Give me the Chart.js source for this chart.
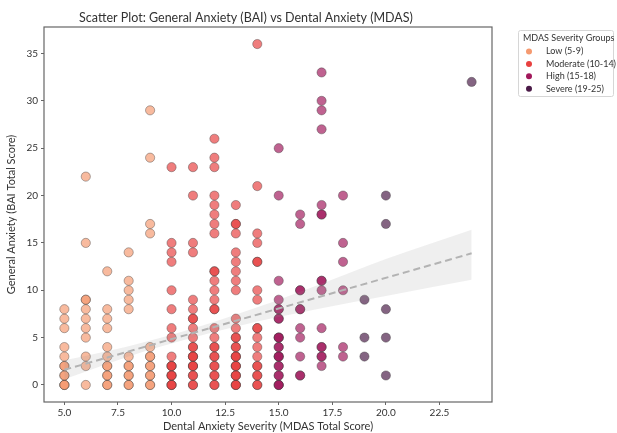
<!DOCTYPE html>
<html>
<head>
<meta charset="utf-8">
<script src="https://cdn.jsdelivr.net/npm/chart.js@4"></script>
<style>
  html, body { margin: 0; padding: 0; background: #fff; }
  #wrap { width: 617px; height: 433px; }
</style>
</head>
<body>
<div id="wrap"><canvas id="chart" width="617" height="433"></canvas></div>
<script>
// MDAS score (x) vs BAI score (y), one pair per patient
const lowPoints = [
  [5,0],[5,0],[5,0],[5,1],[5,1],[5,2],[5,2],[5,3],[5,4],[5,6],[5,7],[5,8],
  [6,0],[6,2],[6,3],[6,5],[6,6],[6,7],[6,8],[6,9],[6,9],[6,15],[6,22],
  [7,0],[7,0],[7,1],[7,1],[7,2],[7,2],[7,3],[7,4],[7,6],[7,7],[7,8],[7,12],
  [8,0],[8,0],[8,1],[8,1],[8,2],[8,2],[8,3],[8,8],[8,9],[8,10],[8,11],[8,14],
  [9,0],[9,0],[9,1],[9,1],[9,2],[9,2],[9,3],[9,3],[9,4],[9,16],[9,17],[9,24],[9,29]
];
const moderatePoints = [
  [10,0],[10,0],[10,0],[10,1],[10,1],[10,1],[10,2],[10,2],[10,2],[10,3],[10,5],[10,6],
  [10,8],[10,10],[10,13],[10,14],[10,15],[10,23],
  [11,0],[11,0],[11,1],[11,1],[11,2],[11,2],[11,2],[11,3],[11,3],[11,3],[11,4],[11,4],
  [11,5],[11,6],[11,7],[11,7],[11,8],[11,9],[11,14],[11,15],[11,20],[11,23],
  [12,0],[12,0],[12,1],[12,1],[12,2],[12,2],[12,3],[12,3],[12,4],[12,4],[12,5],[12,6],
  [12,8],[12,8],[12,9],[12,10],[12,11],[12,12],[12,12],[12,16],[12,17],[12,18],[12,19],
  [12,20],[12,23],[12,24],[12,26],
  [13,0],[13,0],[13,0],[13,1],[13,1],[13,1],[13,2],[13,2],[13,2],[13,3],[13,3],[13,3],
  [13,4],[13,4],[13,5],[13,5],[13,6],[13,7],[13,10],[13,11],[13,12],[13,13],[13,14],
  [13,16],[13,17],[13,17],[13,19],
  [14,0],[14,0],[14,1],[14,1],[14,2],[14,2],[14,3],[14,4],[14,5],[14,6],[14,6],[14,9],
  [14,10],[14,13],[14,13],[14,15],[14,16],[14,21],[14,36]
];
const highPoints = [
  [15,0],[15,0],[15,0],[15,1],[15,1],[15,2],[15,2],[15,3],[15,3],[15,3],[15,4],[15,4],
  [15,5],[15,5],[15,5],[15,7],[15,7],[15,8],[15,8],[15,9],[15,11],[15,20],[15,25],
  [16,1],[16,1],[16,3],[16,5],[16,6],[16,8],[16,8],[16,10],[16,10],[16,17],[16,18],
  [17,2],[17,3],[17,3],[17,4],[17,4],[17,6],[17,10],[17,11],[17,11],[17,18],[17,18],
  [17,19],[17,27],[17,29],[17,30],[17,33],
  [18,3],[18,4],[18,10],[18,13],[18,15],[18,20]
];
const severePoints = [
  [19,3],[19,5],[19,9],
  [20,1],[20,5],[20,8],[20,17],[20,20],
  [24,32]
];

const groupLabels = ['Low (5-9)', 'Moderate (10-14)', 'High (15-18)', 'Severe (19-25)'];
const groupColors = ['#f59a70', '#e8403f', '#a1185b', '#4a1a47'];

// fitted regression line and its confidence band
const fitX = [5, 24];
const fitY = [1.6, 13.9];
const bandX = [5, 8, 11, 14, 17, 20, 24];
const bandUpper = [2.6, 4.1, 5.95, 8.2, 10.7, 13.3, 16.4];
const bandLower = [0.6, 3.0, 5.0, 6.7, 8.1, 9.4, 11.1];

const xTicks = [5, 7.5, 10, 12.5, 15, 17.5, 20, 22.5];
const yTicks = [0, 5, 10, 15, 20, 25, 30, 35];

const FONT = 'Lato';
const TXT = '#333';

function hexA(hex, a) {
  const n = parseInt(hex.slice(1), 16);
  return `rgba(${n >> 16},${(n >> 8) & 255},${n & 255},${a})`;
}

const pointSets = [lowPoints, moderatePoints, highPoints, severePoints];
const scatterSets = pointSets.map((pts, i) => ({
  type: 'scatter',
  label: groupLabels[i],
  data: pts.map(p => ({ x: p[0], y: p[1] })),
  backgroundColor: hexA(groupColors[i], 0.68),
  borderColor: 'rgba(60,60,60,0.5)',
  borderWidth: 0.8,
  pointRadius: 4.6,
  order: 3
}));

const bandSets = [
  {
    type: 'line',
    label: 'ci-upper',
    data: bandX.map((x, i) => ({ x: x, y: bandUpper[i] })),
    borderWidth: 0,
    pointRadius: 0,
    fill: false,
    cubicInterpolationMode: 'monotone',
    order: 2
  },
  {
    type: 'line',
    label: 'ci-lower',
    data: bandX.map((x, i) => ({ x: x, y: bandLower[i] })),
    borderWidth: 0,
    pointRadius: 0,
    fill: '-1',
    backgroundColor: 'rgba(150,150,150,0.15)',
    cubicInterpolationMode: 'monotone',
    order: 2
  }
];

const fitSet = {
  type: 'line',
  label: 'fit',
  data: fitX.map((x, i) => ({ x: x, y: fitY[i] })),
  borderColor: '#b3b3b3',
  borderWidth: 2,
  borderDash: [7, 4],
  pointRadius: 0,
  fill: false,
  order: 1
};

// frame on all four sides + legend box outside the plot
const framePlugin = {
  id: 'frame',
  afterDraw(chart) {
    const { ctx, chartArea: a } = chart;
    ctx.save();
    ctx.strokeStyle = '#666';
    ctx.lineWidth = 1.2;
    ctx.strokeRect(a.left, a.top, a.right - a.left, a.bottom - a.top);

    // legend
    const lx = 518, ly = 30, lw = 95, lh = 66;
    ctx.fillStyle = '#fff';
    ctx.strokeStyle = '#d6d6d6';
    ctx.lineWidth = 1;
    ctx.beginPath();
    ctx.roundRect(lx + 0.5, ly + 0.5, lw, lh, 2);
    ctx.fill();
    ctx.stroke();
    ctx.fillStyle = TXT;
    ctx.textBaseline = 'middle';
    ctx.textAlign = 'left';
    ctx.font = `9px ${FONT}`;
    ctx.fillText('MDAS Severity Groups', lx + 5, ly + 8.5);
    groupLabels.forEach((lab, i) => {
      const y = ly + 21.5 + i * 12.4;
      ctx.beginPath();
      ctx.arc(lx + 11, y, 3, 0, Math.PI * 2);
      ctx.fillStyle = groupColors[i];
      ctx.fill();
      ctx.fillStyle = TXT;
      ctx.fillText(lab, lx + 28, y);
    });
    ctx.restore();
  }
};

new Chart(document.getElementById('chart'), {
  data: { datasets: [...scatterSets, ...bandSets, fitSet] },
  options: {
    responsive: false,
    animation: false,
    layout: { padding: { top: 0, right: 125, bottom: 0, left: 0 } },
    plugins: {
      legend: { display: false },
      tooltip: { enabled: false },
      title: {
        display: true,
        text: 'Scatter Plot: General Anxiety (BAI) vs Dental Anxiety (MDAS)',
        color: TXT,
        font: { family: FONT, size: 12.5, weight: 'normal' },
        padding: { top: 10, bottom: 2 }
      }
    },
    scales: {
      x: {
        type: 'linear',
        min: 4.05,
        max: 24.95,
        afterBuildTicks: axis => { axis.ticks = xTicks.map(v => ({ value: v })); },
        afterFit: axis => { axis.height = 31; },
        ticks: {
          color: TXT,
          font: { family: FONT, size: 10 },
          padding: 2,
          maxRotation: 0,
          callback: v => v.toFixed(1)
        },
        grid: { display: true, drawOnChartArea: false, drawTicks: true, tickLength: 3, tickColor: '#666' },
        border: { display: false },
        title: {
          display: true,
          text: 'Dental Anxiety Severity (MDAS Total Score)',
          color: TXT,
          font: { family: FONT, size: 11 },
          padding: { top: 1, bottom: 0 }
        }
      },
      y: {
        type: 'linear',
        min: -1.8,
        max: 37.8,
        afterBuildTicks: axis => { axis.ticks = yTicks.map(v => ({ value: v })); },
        afterFit: axis => { axis.width = 44; },
        ticks: {
          color: TXT,
          font: { family: FONT, size: 10 },
          padding: 3
        },
        grid: { display: true, drawOnChartArea: false, drawTicks: true, tickLength: 3, tickColor: '#666' },
        border: { display: false },
        title: {
          display: true,
          text: 'General Anxiety (BAI Total Score)',
          color: TXT,
          font: { family: FONT, size: 11 },
          padding: { top: 5, bottom: 2 }
        }
      }
    }
  },
  plugins: [framePlugin]
});
</script>
</body>
</html>
